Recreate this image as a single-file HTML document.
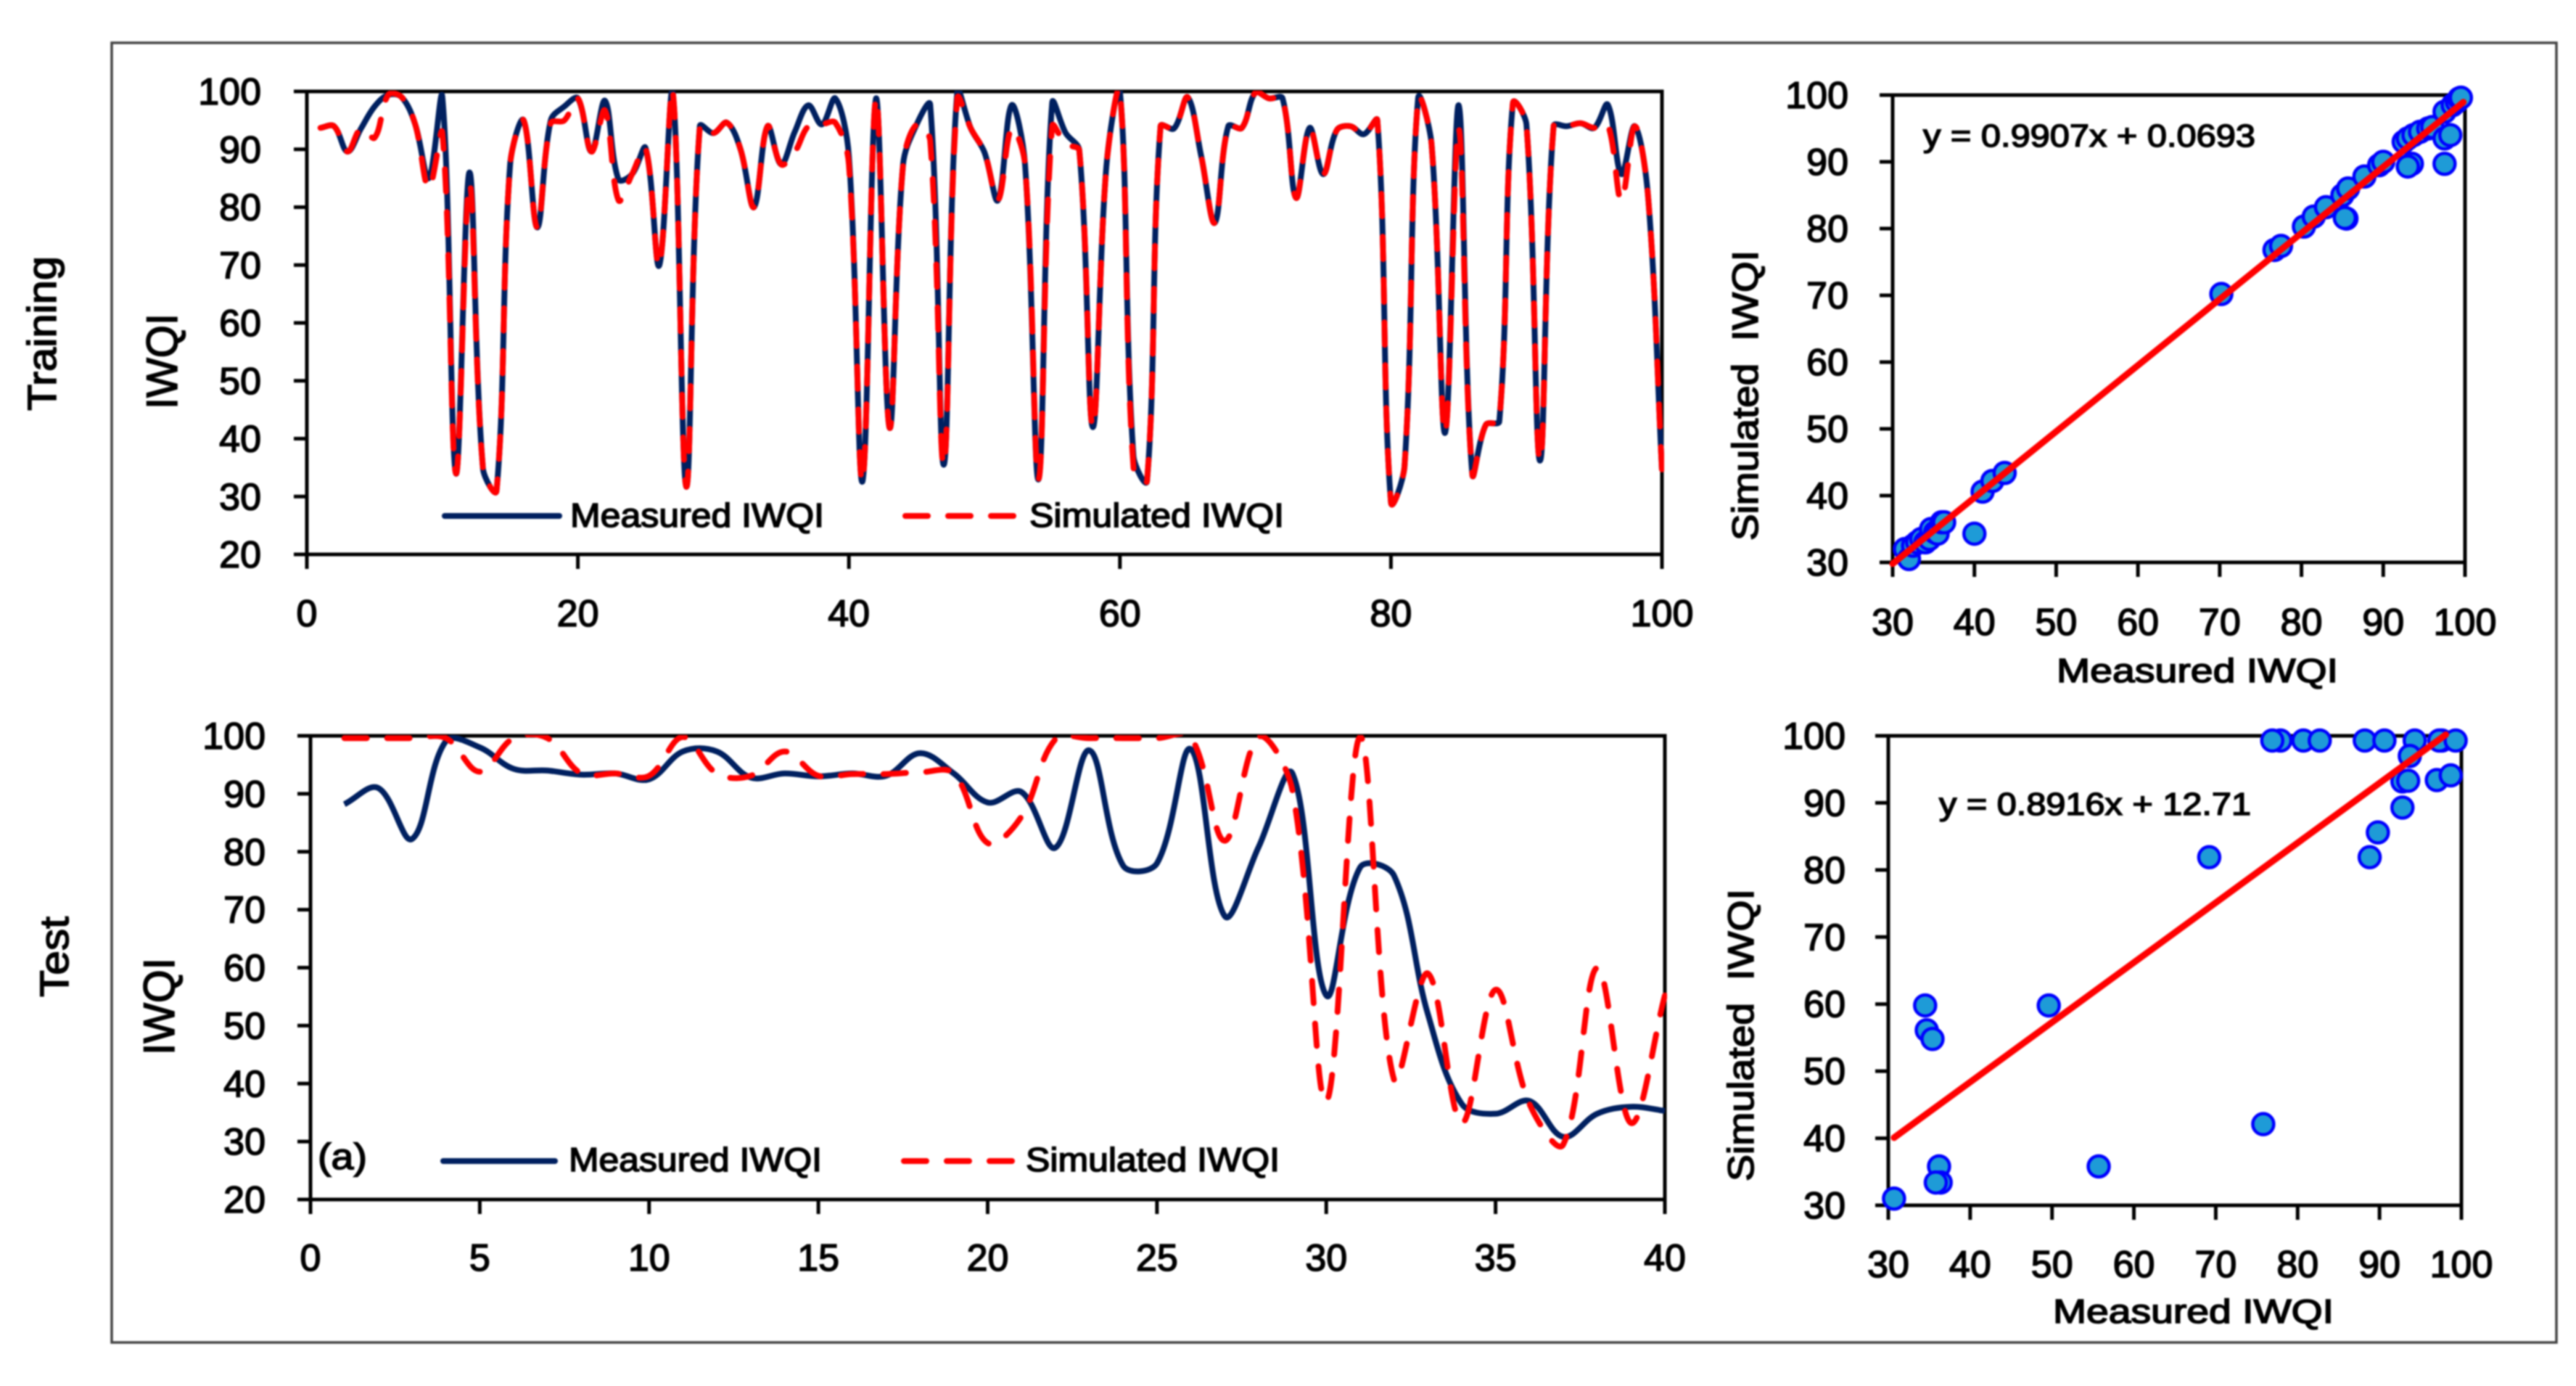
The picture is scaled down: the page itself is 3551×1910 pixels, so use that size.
<!DOCTYPE html>
<html lang="en">
<head>
<meta charset="utf-8">
<title>Measured and simulated IWQI</title>
<style>
html,body{margin:0;padding:0;background:#fff;}
#figure{display:block;width:3551px;height:1910px;filter:blur(1.1px);}
text{font-family:"Liberation Sans",sans-serif;fill:#000;stroke:#000;stroke-width:1.6px;}
</style>
</head>
<body>
<svg id="figure" xmlns="http://www.w3.org/2000/svg" width="3551" height="1910" viewBox="0 0 3551 1910">
<rect x="0" y="0" width="3551" height="1910" fill="#fff"/>
<rect x="154" y="59" width="3370" height="1791" fill="none" stroke="#444" stroke-width="3.5"/>
<text transform="translate(77,566) rotate(-90)" font-size="56" textLength="213" lengthAdjust="spacingAndGlyphs">Training</text>
<text transform="translate(94,1374) rotate(-90)" font-size="56" textLength="111" lengthAdjust="spacingAndGlyphs">Test</text>
<text transform="translate(244,564) rotate(-90)" font-size="60" textLength="132" lengthAdjust="spacingAndGlyphs">IWQI</text>
<text transform="translate(240,1454) rotate(-90)" font-size="60" textLength="134" lengthAdjust="spacingAndGlyphs">IWQI</text>
<text x="786" y="726" font-size="46" textLength="350" lengthAdjust="spacingAndGlyphs">Measured IWQI</text>
<text x="1419" y="726" font-size="46" textLength="351" lengthAdjust="spacingAndGlyphs">Simulated IWQI</text>
<text x="784" y="1614" font-size="46" textLength="349" lengthAdjust="spacingAndGlyphs">Measured IWQI</text>
<text x="1414" y="1614" font-size="46" textLength="350" lengthAdjust="spacingAndGlyphs">Simulated IWQI</text>
<text x="438" y="1611" font-size="50" textLength="68" lengthAdjust="spacingAndGlyphs">(a)</text>
<text x="2835" y="940" font-size="46" textLength="388" lengthAdjust="spacingAndGlyphs">Measured IWQI</text>
<text x="2830" y="1823" font-size="46" textLength="387" lengthAdjust="spacingAndGlyphs">Measured IWQI</text>
<text transform="translate(2423,745) rotate(-90)" font-size="50" textLength="400" lengthAdjust="spacingAndGlyphs" xml:space="preserve">Simulated  IWQI</text>
<text transform="translate(2417,1628) rotate(-90)" font-size="50" textLength="403" lengthAdjust="spacingAndGlyphs" xml:space="preserve">Simulated  IWQI</text>
<text x="2651" y="202" font-size="44" textLength="458" lengthAdjust="spacingAndGlyphs">y = 0.9907x + 0.0693</text>
<text x="2673" y="1123" font-size="44" textLength="430" lengthAdjust="spacingAndGlyphs">y = 0.8916x + 12.71</text>
<g id="layer"></g>
</svg>
<script>
// ---------- chart data ----------
const trainingMeasured = [93.7,94,89.6,93.6,97.4,99.4,99,94.3,85,99,34,86,34.8,31,87.4,95,76.5,95,97.4,98.8,89.6,98.4,84.8,85.7,90.2,69.9,99.8,31.7,94,92.8,94.6,90,80,94,87.4,93,97.6,94.3,98.8,88.8,32.6,98.8,41.9,87.4,94.3,97.7,35.5,100,93.6,89.5,81.2,97.6,87.4,33,98,92.8,89.8,42,87,100,37,32.7,94,93.6,99,88.8,77.3,94,93.7,99.8,98.8,98.8,81.6,93.7,85.7,93.3,94,92.6,95,29,35.2,98.8,90.9,41,97.6,33.9,42.4,43,98,94.3,36.2,94,94,94.5,93.7,97.7,85.7,94,81.2,34.6];
const trainingSimulated = [93.7,94,89.6,93.6,92,99.4,99,94.3,83.3,92.8,34,84,34.8,31,87.4,95,76.5,94.5,95,98.8,89.6,96.7,81.2,85.7,90.2,69.9,100,31.7,94,92.8,94.6,90,80,94,87.4,89.5,94,94.3,94.6,87.4,32.6,98.8,41.9,87.4,94.3,91.5,35.5,98.8,93.6,89.5,81.2,93.6,87.4,33,94,90.9,89.8,42,87,100,35,32.7,94,93.6,99,88.8,77.3,94,93.7,99.8,98.8,98.8,81.6,93.7,85.7,93.3,94,92.6,95,29,35.2,98.8,90.9,41,93.6,33.9,42.4,43,98,94.3,36.2,94,94,94.5,93.7,94.3,81.2,94,81.2,34.6];
const testMeasured = [88.2,91,82.2,99.1,98,94.3,94,93.3,93.5,92.5,97.3,97.3,92.8,93.5,93,93.5,93.1,97,93.5,88.5,90.3,80.7,97.5,77.6,78,97.7,68.9,80.8,93.5,55.2,77.3,75.9,52,36.5,34.8,37,30.8,34.8,36,35.3];
const testSimulated = [99.6,99.6,99.6,99.6,93.8,99.6,99.6,93.5,93.5,93.1,99.8,93.5,93.1,97.3,93.1,93.4,93.4,93.7,93.5,81.5,86.1,99.4,99.6,99.6,99.6,99.8,81.9,99.8,90.6,36.9,99.8,40.7,59,33.2,56.2,36.5,29.5,60,33.2,55.2];
const trainingScatterX = [31.5,32,32.5,33,33.5,34,34.5,34.7,35.2,35.5,36,36.3,40,41,42.2,43.7,70.2,76.7,77.5,80.3,81.5,83,85,85.7,85.5,85.3,87.7,89.5,90,93.5,93,92.5,93,93.7,94.5,95.5,96,97.5,98.2,97.5,97.5,98.5,99,99.3,99.5];
const trainingScatterY = [32,30.5,32.5,33,33.5,33,33.5,35,34.5,34.3,36,36,34.3,40.6,42.2,43.4,70.2,76.8,77.4,80.3,81.8,83.2,85,86,81.5,81.6,87.8,89.5,90,89.7,89.3,93,93.5,94,94.5,95,95.2,93.5,94,89.7,97.5,98.5,99,99.5,99.6];
const testScatterX = [77.9,76.9,80.7,82.7,88.2,90.6,94.3,97.6,97.3,99.3,93.7,92.8,93.5,97,98.7,92.8,89.8,88.8,69.2,34.5,49.6,34.7,35.4,75.8,36.2,55.7,36.4,35.8,30.7];
const testScatterY = [99.3,99.3,99.3,99.3,99.3,99.3,99.3,99.3,99.3,99.3,97,93.2,93.3,93.4,94.1,89.3,85.6,81.9,81.9,59.8,59.8,56.1,54.8,42.1,35.8,35.8,33.4,33.4,31];
const trainingTrendSlope = 0.9907;
const trainingTrendIntercept = 0.0693;
const trainingTrendRange = [30, 99.8];
const testTrendSlope = 0.8916;
const testTrendIntercept = 12.71;
const testTrendRange = [30.7, 98.1];
const lineYTicks = [20,30,40,50,60,70,80,90,100];
const trainingXTicks = [0,20,40,60,80,100];
const testXTicks = [0,5,10,15,20,25,30,35,40];
const scatterTicks = [30,40,50,60,70,80,90,100];

// ---------- drawing ----------
const NS = 'http://www.w3.org/2000/svg';
const layer = document.getElementById('layer');
function make(tag, parent, attrs) {
  const el = document.createElementNS(NS, tag);
  for (const k in attrs) el.setAttribute(k, attrs[k]);
  parent.appendChild(el);
  return el;
}
function scale(d0, d1, r0, r1) {
  return v => r0 + (v - d0) * (r1 - r0) / (d1 - d0);
}
function dist(a, b) {
  return Math.hypot(b[0] - a[0], b[1] - a[1]) || 1e-6;
}
// Spreadsheet-style smoothing: handle length follows the adjoining chord lengths,
// which keeps overshoot small next to short segments.
function smoothPath(pts) {
  const k = 0.36;
  let d = 'M' + pts[0][0].toFixed(1) + ' ' + pts[0][1].toFixed(1);
  for (let i = 0; i < pts.length - 1; i++) {
    const p0 = pts[Math.max(0, i - 1)], p1 = pts[i], p2 = pts[i + 1], p3 = pts[Math.min(pts.length - 1, i + 2)];
    const d01 = dist(p0, p1), d12 = dist(p1, p2), d23 = dist(p2, p3);
    const a = d12 / (d01 + d12) * k;
    const b = d12 / (d12 + d23) * k;
    d += ' C' + (p1[0] + (p2[0] - p0[0]) * a).toFixed(1) + ' ' + (p1[1] + (p2[1] - p0[1]) * a).toFixed(1)
      + ' ' + (p2[0] - (p3[0] - p1[0]) * b).toFixed(1) + ' ' + (p2[1] - (p3[1] - p1[1]) * b).toFixed(1)
      + ' ' + p2[0].toFixed(1) + ' ' + p2[1].toFixed(1);
  }
  return d;
}
function drawAxes(g, name, box, xs, ys, xTicks, yTicks, xLabelBase, yLabelRight) {
  const frame = make('rect', g, {x: box.l, y: box.t, width: box.r - box.l, height: box.b - box.t, fill: 'none', stroke: '#000', 'stroke-width': box.sw});
  
  
  xTicks.forEach(v => {
    const t = make('line', g, {x1: xs(v), x2: xs(v), y1: box.b, y2: box.b + 20, stroke: '#000', 'stroke-width': box.sw});
    
    
    const l = make('text', g, {x: xs(v), y: xLabelBase, 'font-size': 52, 'text-anchor': 'middle'});
    l.textContent = v;
    
    
  });
  yTicks.forEach(v => {
    const t = make('line', g, {x1: box.l - 18, x2: box.l, y1: ys(v), y2: ys(v), stroke: '#000', 'stroke-width': box.sw});
    
    
    const l = make('text', g, {x: yLabelRight, y: ys(v) + 18, 'font-size': 52, 'text-anchor': 'end'});
    l.textContent = v;
    
    
  });
}
function drawLinePanel(name, box, xMax, xTicks, measured, simulated, xLabelBase, yLabelRight, legendY, navyLeg, redLeg) {
  const g = make('g', layer, {});
  
  
  const xs = scale(0, xMax, box.l, box.r);
  const ys = scale(20, 100, box.b, box.t);
  const clipDefs = make('clipPath', g, {id: name + '-clip'});
  make('rect', clipDefs, {x: box.l, y: box.t - 1, width: box.r - box.l + 3, height: box.b - box.t});
  drawAxes(g, name, box, xs, ys, xTicks, lineYTicks, xLabelBase, yLabelRight);
  const mPts = measured.map((v, i) => [xs(i + 1), ys(v)]);
  const sPts = simulated.map((v, i) => [xs(i + 1), ys(v)]);
  const mLine = make('path', g, {d: smoothPath(mPts), fill: 'none', stroke: '#002060', 'stroke-width': 8, 'stroke-linejoin': 'round', 'clip-path': 'url(#' + name + '-clip)'});
  
  
  const sLine = make('path', g, {d: smoothPath(sPts), fill: 'none', stroke: '#ff0000', 'stroke-width': 8, 'stroke-dasharray': '31 28', 'stroke-linecap': 'round', 'clip-path': 'url(#' + name + '-clip)'});
  
  
  const k1 = make('line', g, {x1: navyLeg[0], x2: navyLeg[1], y1: legendY, y2: legendY, stroke: '#002060', 'stroke-width': 8, 'stroke-linecap': 'round'});
  
  
  const k2 = make('line', g, {x1: redLeg[0], x2: redLeg[1], y1: legendY, y2: legendY, stroke: '#ff0000', 'stroke-width': 8, 'stroke-dasharray': '31 28', 'stroke-linecap': 'round'});
  
  
}
function drawScatterPanel(name, box, px, py, slope, intercept, range, xLabelBase, yLabelRight) {
  const g = make('g', layer, {});
  
  
  const xs = scale(30, 100, box.l, box.r);
  const ys = scale(30, 100, box.b, box.t);
  drawAxes(g, name + '-scatter', box, xs, ys, scatterTicks, scatterTicks, xLabelBase, yLabelRight);
  px.forEach((x, i) => {
    const c = make('circle', g, {cx: xs(x), cy: ys(py[i]), r: 14.5, fill: '#1e9bd7', stroke: '#0000ff', 'stroke-width': 4.5});
    
    
  });
  const line = make('line', g, {x1: xs(range[0]), y1: ys(slope * range[0] + intercept), x2: xs(range[1]), y2: ys(slope * range[1] + intercept), stroke: '#ff0000', 'stroke-width': 9, 'stroke-linecap': 'round'});
  
  
}
drawLinePanel('training', {l: 423, r: 2291, t: 126, b: 764, sw: 5}, 100, trainingXTicks, trainingMeasured, trainingSimulated, 863, 360, 711, [613, 771], [1248, 1401]);
drawLinePanel('test', {l: 428, r: 2295, t: 1014, b: 1653, sw: 5}, 40, testXTicks, testMeasured, testSimulated, 1751, 366, 1600, [611, 765], [1246, 1398]);
drawScatterPanel('training', {l: 2609, r: 3398, t: 131, b: 775, sw: 5}, trainingScatterX, trainingScatterY, trainingTrendSlope, trainingTrendIntercept, trainingTrendRange, 875, 2548);
drawScatterPanel('test', {l: 2603, r: 3393, t: 1014, b: 1661, sw: 5}, testScatterX, testScatterY, testTrendSlope, testTrendIntercept, testTrendRange, 1760, 2544);
</script>
</body>
</html>
